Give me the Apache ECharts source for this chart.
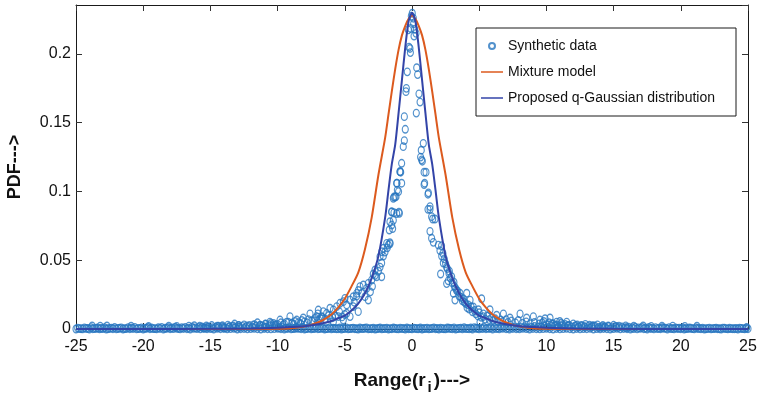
<!DOCTYPE html>
<html>
<head>
<meta charset="utf-8">
<script src="https://cdn.jsdelivr.net/npm/echarts@6/dist/echarts.min.js"></script>
<style>
html,body{margin:0;padding:0;background:#fff;}
#chart{width:761px;height:396px;}
</style>
</head>
<body>
<div id="chart"></div>
<script>
// ---- tick settings ----
const xMin = -25, xMax = 25, xStep = 5;
const yMin = 0, yMax = 0.2356, yStep = 0.05;

// ---- fitted curves ----
const curveX = [-25,-20,-15,-12,-10,-9,-8,-7.5,-7,-6.5,-6,-5.5,-5,-4.5,-4,-3.5,-3,-2.5,-2,-1.75,-1.5,-1.25,-1,-0.75,-0.5,-0.25,0,
                0.25,0.5,0.75,1,1.25,1.5,1.75,2,2.5,3,3.5,4,4.5,5,5.5,6,6.5,7,7.5,8,9,10,12,15,20,25];
const mixtureY = [0,0,0,0.00002,0.0002,0.0006,0.0018,0.003,0.0047,0.0072,0.0105,0.0155,0.022,0.031,0.041,0.058,0.081,0.112,0.139,0.156,0.173,0.189,0.203,0.2135,0.2205,0.2255,0.228,
                  0.2255,0.2205,0.2135,0.203,0.189,0.173,0.156,0.139,0.112,0.081,0.058,0.041,0.031,0.022,0.0155,0.0105,0.0072,0.0047,0.003,0.0018,0.0006,0.0002,0.00002,0,0,0];
const qGaussY = [0.00002,0.00005,0.00015,0.0004,0.0009,0.0014,0.002,0.0027,0.0034,0.0045,0.0058,0.0078,0.0098,0.0135,0.0185,0.026,0.037,0.053,0.081,0.101,0.120,0.134,0.157,0.181,0.205,0.224,0.230,
                 0.224,0.205,0.181,0.157,0.134,0.120,0.101,0.081,0.053,0.037,0.026,0.0185,0.0135,0.0098,0.0078,0.0058,0.0045,0.0034,0.0027,0.002,0.0014,0.0009,0.0004,0.00015,0.00005,0.00002];

// ---- synthetic data points: [range, pdf] ----
const synthBase = [
[-25,0],[-24.75,.0003],[-24.5,.0001],[-24.25,.0004],[-24,0],[-23.75,.0002],[-23.5,.0005],[-23.25,.0001],[-23,.0003],[-22.75,0],
[-22.5,.0004],[-22.25,.0002],[-22,.0001],[-21.75,.0005],[-21.5,0],[-21.25,.0003],[-21,.0002],[-20.75,.0004],[-20.5,.0001],[-20.25,.0003],
[-20,0],[-19.75,.0005],[-19.5,.0002],[-19.25,.0003],[-19,.0001],[-18.75,.0004],[-18.5,0],[-18.25,.0005],[-18,.0002],[-17.75,.0003],
[-17.5,.0005],[-17.25,.0001],[-17,.0004],[-16.75,.0002],[-16.5,0],[-16.25,.0005],[-16,.0003],[-15.75,.0001],[-15.5,.0004],[-15.25,.0002],
[-15,.0003],[-14.75,0],[-14.5,.0005],[-14.25,.0002],[-14,.0004],[-13.75,.0001],[-13.5,.0003],[-13.25,.0005],[-13,0],[-12.75,.0002],
[-12.5,.0004],[-12.25,.0001],[-12,.0003],[-11.75,.0005],[-11.5,.0002],[-11.25,0],[-11,.0004],[-10.75,.0002],[-10.5,.0001],[-10.25,.0003],
[-10,.0005],[-9.75,.0002],[-9.5,0],[-9.25,.0004],[-9,.0001],[-8.75,.0003],[-8.5,.0005],[-8.25,.0002],[-8,0],[-7.75,.0004],
[-7.5,.0001],[-7.25,.0003],[-7,.0002],[-6.75,.0005],[-6.5,0],[-6.25,.0003],[-6,.0001],[-5.75,.0004],[-5.5,.0002],[-5.25,0],
[-5,.0003],[-4.75,.0001],[-4.5,.0004],[-4.25,.0002],[-4,0],[-3.75,.0003],[-3.5,.0005],[-3.25,.0001],[-3,.0002],[-2.75,0],
[-2.5,.0004],[-2.25,.0001],[-2,.0003],[-1.75,0],[-1.5,.0002],[-1.25,.0004],[-1,.0001],[-0.75,.0003],[-0.5,0],[-0.25,.0002],
[0,.0001],[0.25,.0004],[0.5,.0002],[0.75,0],[1,.0003],[1.25,.0001],[1.5,.0004],[1.75,.0002],[2,0],[2.25,.0003],
[2.5,.0001],[2.75,.0005],[3,.0002],[3.25,0],[3.5,.0004],[3.75,.0001],[4,.0003],[4.25,.0002],[4.5,0],[4.75,.0005],
[5,.0001],[5.25,.0003],[5.5,.0002],[5.75,.0004],[6,0],[6.25,.0003],[6.5,.0001],[6.75,.0005],[7,.0002],[7.25,0],
[7.5,.0004],[7.75,.0002],[8,.0001],[8.25,.0005],[8.5,.0003],[8.75,0],[9,.0004],[9.25,.0002],[9.5,.0001],[9.75,.0003],
[10,.0005],[10.25,.0002],[10.5,0],[10.75,.0004],[11,.0001],[11.25,.0003],[11.5,.0005],[11.75,.0002],[12,0],[12.25,.0004],
[12.5,.0001],[12.75,.0003],[13,.0002],[13.25,.0005],[13.5,0],[13.75,.0003],[14,.0001],[14.25,.0004],[14.5,.0002],[14.75,0],
[15,.0003],[15.25,.0005],[15.5,.0001],[15.75,.0004],[16,.0002],[16.25,0],[16.5,.0003],[16.75,.0001],[17,.0005],[17.25,.0002],
[17.5,0],[17.75,.0004],[18,.0001],[18.25,.0003],[18.5,.0002],[18.75,.0005],[19,0],[19.25,.0003],[19.5,.0001],[19.75,.0004],
[20,.0002],[20.25,0],[20.5,.0003],[20.75,.0005],[21,.0001],[21.25,.0004],[21.5,.0002],[21.75,0],[22,.0003],[22.25,.0001],
[22.5,.0004],[22.75,.0002],[23,0],[23.25,.0005],[23.5,.0001],[23.75,.0003],[24,.0002],[24.25,0],[24.5,.0004],[24.75,.0001],[25,.0002]
];
const synthBase2 = [
[-24.875,.0006],[-24.625,.0002],[-24.375,.0008],[-24.125,.0004],[-23.875,.0010],[-23.625,.0003],[-23.375,.0007],[-23.125,.0005],[-22.875,.0009],[-22.625,.0002],
[-22.375,.0006],[-22.125,.0011],[-21.875,.0004],[-21.625,.0008],[-21.375,.0003],[-21.125,.0010],[-20.875,.0006],[-20.625,.0012],[-20.375,.0004],[-20.125,.0008],
[-19.875,.0005],[-19.625,.0011],[-19.375,.0007],[-19.125,.0003],[-18.875,.0009],[-18.625,.0012],[-18.375,.0005],[-18.125,.0010],[-17.875,.0007],[-17.625,.0013],
[-17.375,.0004],[-17.125,.0009],[-16.875,.0012],[-16.625,.0006],[-16.375,.0014],[-16.125,.0008],[-15.875,.0011],[-15.625,.0015],[-15.375,.0007],[-15.125,.0012],
[-14.875,.0009],[-14.625,.0014],[-14.375,.0010],[-14.125,.0016],[-13.875,.0008],[-13.625,.0013],[-13.375,.0017],[-13.125,.0011],[-12.875,.0015],[-12.625,.0019],
[-12.375,.0012],[-12.125,.0017],[-11.875,.0014],[-11.625,.0020],[-11.375,.0016],[-11.125,.0022],[-10.875,.0013],[-10.625,.0019],[-10.375,.0024],[-10.125,.0017],
[-9.875,.0008],[-9.625,.0012],[-9.375,.0006],[-9.125,.0010],[-8.875,.0004],[-8.625,.0009],[-8.375,.0006],[-8.125,.0011],[-7.875,.0003],[-7.625,.0008],
[-7.375,.0005],[-7.125,.0010],[-6.875,.0004],[-6.625,.0007],[-6.375,.0003],[-6.125,.0009],[-5.875,.0005],[-5.625,.0002],[-5.375,.0007],[-5.125,.0004],
[-4.875,.0008],[-4.625,.0003],[-4.375,.0006],[-4.125,.0002],[-3.875,.0007],[-3.625,.0004],[-3.375,.0008],[-3.125,.0003],[-2.875,.0006],[-2.625,.0002],
[-2.375,.0007],[-2.125,.0004],[-1.875,.0006],[-1.625,.0003],[-1.375,.0007],[-1.125,.0002],[-0.875,.0006],[-0.625,.0004],[-0.375,.0007],[-0.125,.0003],
[0.125,.0006],[0.375,.0002],[0.625,.0007],[0.875,.0004],[1.125,.0006],[1.375,.0003],[1.625,.0008],[1.875,.0004],[2.125,.0006],[2.375,.0002],
[2.625,.0007],[2.875,.0004],[3.125,.0008],[3.375,.0003],[3.625,.0006],[3.875,.0009],[4.125,.0004],[4.375,.0007],[4.625,.0010],[4.875,.0005],
[5.125,.0008],[5.375,.0011],[5.625,.0006],[5.875,.0009],[6.125,.0012],[6.375,.0007],[6.625,.0010],[6.875,.0013],[7.125,.0008],[7.375,.0011],
[7.625,.0014],[7.875,.0009],[8.125,.0012],[8.375,.0016],[8.625,.0010],[8.875,.0014],[9.125,.0018],[9.375,.0012],[9.625,.0016],[9.875,.0021],
[10.125,.0014],[10.375,.0019],[10.625,.0024],[10.875,.0016],[11.125,.0021],[11.375,.0017],[11.625,.0023],[11.875,.0015],[12.125,.0020],[12.375,.0016],
[12.625,.0022],[12.875,.0014],[13.125,.0019],[13.375,.0015],[13.625,.0020],[13.875,.0012],[14.125,.0017],[14.375,.0013],[14.625,.0018],[14.875,.0011],
[15.125,.0016],[15.375,.0012],[15.625,.0015],[15.875,.0010],[16.125,.0014],[16.375,.0009],[16.625,.0013],[16.875,.0008],[17.125,.0012],[17.375,.0007],
[17.625,.0011],[17.875,.0006],[18.125,.0010],[18.375,.0005],[18.625,.0009],[18.875,.0006],[19.125,.0010],[19.375,.0004],[19.625,.0008],[19.875,.0005],
[20.125,.0009],[20.375,.0004],[20.625,.0007],[20.875,.0003],[21.125,.0008],[21.375,.0004],[21.625,.0006],[21.875,.0002],[22.125,.0006],[22.375,.0003],
[22.625,.0005],[22.875,.0002],[23.125,.0006],[23.375,.0003],[23.625,.0005],[23.875,.0002],[24.125,.0004],[24.375,.0006],[24.625,.0003],[24.875,.0005]
];
const synthTails = [
[-23.8,.0022],[-23.2,.0021],[-22.7,.0022],[-20.9,.002],[-19.6,.0019],[-18.1,.002],[-17.5,.0019],[-16.6,.0021],[-16.2,.0024],[-15.8,.002],
[-15.3,.0022],[-14.9,.0025],[-14.5,.002],[-14.1,.0024],[-13.7,.0028],[-13.3,.0022],[-12.9,.0026],[-12.5,.003],[-12.1,.0025],[-11.7,.0032],
[-11.3,.0028],[-10.9,.0035],[-10.5,.0041],[-10.1,.003],[-11.0,.0015],[-12.8,.0012],[-14.0,.0011],[-15.5,.001],[-13.2,.0036],[-11.5,.0045],
[10.2,.0045],[10.5,.0038],[10.8,.003],[11.1,.0042],[11.4,.0033],[11.7,.0028],[12.0,.0037],[12.3,.003],[12.6,.0026],[12.9,.0034],
[13.2,.0028],[13.5,.0024],[13.8,.003],[14.2,.0025],[14.6,.0022],[15.0,.0027],[15.4,.0021],[15.9,.0023],[16.5,.002],[17.2,.0022],
[17.8,.0019],[18.6,.002],[19.4,.0021],[20.3,.0019],[21.2,.002],[24.9,.0012],[11.0,.0055],[10.9,.0015],[12.4,.0014],[14.0,.0012],
[16.0,.001],[9.8,.0055],[9.9,.0075]
];
const synthMid = [
[-5.0,.0105],[-5.2,.0088],[-5.4,.0125],[-5.7,.0095],[-5.9,.0082],[-6.2,.0098],[-6.45,.0072],[-6.7,.0085],[-6.95,.0065],[-7.2,.0078],
[-7.45,.0058],[-7.7,.0068],[-8.0,.0052],[-8.2,.0062],[-8.45,.0046],[-8.7,.0055],[-8.95,.0042],[-9.2,.005],[-9.5,.0038],[-9.75,.0045],
[-10.0,.0034],[-10.3,.004],[-10.6,.003],[-10.9,.0036],[-11.3,.0026],[-11.8,.003],[-12.3,.0022],[-12.9,.0025],[-13.6,.0018],[-14.4,.002],[-15.2,.0015],
[-6.97,.0138],[-7.09,.009],[-7.59,.011],[-8.09,.008],[-8.58,.0065],[-9.08,.009],[-9.33,.005],[-9.82,.0065],[-10.57,.005],[-7.3,.006],
[-7.8,.0045],[-8.3,.004],[-8.8,.0035],[-9.6,.003],[-10.2,.0028],[-6.8,.0075],[-7.0,.011],
[-2.75,.0429],[-2.88,.040],[-2.63,.038],[-3.0,.0356],[-3.25,.0332],[-3.62,.032],[-3.37,.0296],[-3.87,.0308],[-4.11,.0259],[-3.75,.0259],
[-3.5,.0235],[-3.25,.0211],[-4.37,.0235],[-4.61,.0211],[-4.99,.0223],[-5.11,.0199],[-5.36,.0187],[-4.86,.0175],[-4.37,.0163],[-4.0,.0126],
[-5.6,.0163],[-5.85,.0139],[-6.1,.0151],[-6.35,.0114],[-6.6,.0126],[-6.72,.009],[-5.48,.009],[-4.86,.0114],[-4.61,.009],[-5.11,.0065],
[-5.85,.0053],[-6.1,.0078],[-3.99,.028],[-4.12,.024],[-4.3,.0195],[-3.1,.027],[-2.95,.031],
[3.32,.028],[3.57,.026],[3.08,.026],[3.2,.021],[3.82,.022],[4.07,.026],[4.32,.021],[4.19,.0175],[4.56,.016],[5.18,.022],
[4.94,.014],[5.31,.011],[5.06,.005],[5.8,.014],[6.3,.01],[6.8,.011],[7.29,.008],[8.04,.011],[8.53,.008],[9.03,.009],
[9.52,.0065],[10.27,.008],[10.76,.005],[11.51,.005],
[2.2,.0605],[2.3,.055],[2.4,.051],[2.5,.0475],[2.62,.044],[2.75,.0405],[2.85,.037],[2.7,.035],[3.0,.0335],[3.15,.031],
[3.25,.0295],[3.4,.0275],[3.5,.024],[3.65,.023],[3.75,.0205],[3.9,.0195],[4.0,.0185],[4.1,.0155],[4.25,.0145],[4.4,.016],
[4.5,.0125],[4.65,.0135],[4.75,.011],[4.9,.0095],[5.0,.0118],[5.15,.0085],[5.3,.009],[5.45,.0072],[5.6,.0095],[5.75,.0068],
[5.9,.0078],[6.05,.0062],[6.2,.0074],[6.4,.0055],[6.6,.0065],[6.75,.0052],[7.0,.0068],[7.15,.0048],[7.4,.0058],[7.7,.0045],
[7.9,.0062],[8.2,.0042],[8.5,.0052],[8.8,.0038],[9.1,.0048],[9.45,.0036],[9.7,.0044],[10.0,.0032],[10.4,.0038],[10.7,.0027],
[11.2,.0031],[11.6,.0024],[12.2,.0026],[12.8,.0019],[13.4,.0022],[14.3,.0016],[15.2,.0018]
];
const synthCore = [
[0.02,.2296],[0.1,.226],[-0.05,.2275],[0.12,.222],[-0.27,.2175],[0.2,.218],[0.3,.215],[-0.15,.204],[-0.22,.205],[-0.12,.201],
[-0.35,.187],[0.35,.19],[0.42,.185],[-0.45,.1726],[-0.42,.175],[0.52,.171],[0.6,.165],[0.32,.157],[-0.57,.1544],[-0.5,.1452],
[-0.57,.137],[-0.65,.1326],[0.84,.135],[0.69,.13],[0.64,.125],[0.77,.122],[-0.77,.1205],[-0.89,.1144],[-0.84,.114],[1.04,.114],
[-1.12,.106],[-0.77,.106],[0.94,.106],[1.22,.099],[-1.34,.096],[1.34,.089],[1.19,.087],[-1.51,.085],[-0.97,.085],[-1.39,.079],
[-1.44,.073],[1.71,.08],[1.54,.08],[1.34,.071],[1.46,.066],[1.59,.063],[-1.64,.062],[-1.84,.059],[-2.01,.056],[-2.13,.053],
[1.96,.061],[2.08,.057],[2.21,.053],[2.33,.048],[-2.26,.048],[-2.38,.045],[-2.5,.042],[-2.75,.039],[-2.26,.038],[2.58,.045],
[2.78,.042],[2.13,.04],[2.95,.038],[2.58,.033],[3.12,.034],
[-0.89,.1144],[-1.14,.106],[-1.09,.101],[-1.19,.0962],[-1.39,.095],[-1.51,.0853],[-1.34,.0846],[-0.94,.0841],[-1.64,.078],[-1.51,.0756],
[-1.69,.072],[-1.88,.0623],[-1.64,.0628],[-1.76,.0611],[-2.13,.0587],[-2.25,.0562],[-2.38,.0526],[-1.0,.0999],[-1.26,.096],[-1.14,.084],
[0.72,.123],[0.9,.114],[0.9,.105],[1.19,.098],[1.34,.087],[1.46,.0817],[0.15,.213],[-0.1,.2185]
];

const FONT = "'Liberation Sans', Arial, Helvetica, sans-serif";
const DATA_COLOR = '#2776bf';
const MIX_COLOR = '#dc5a1e';
const QG_COLOR = '#3344a8';

const chart = echarts.init(document.getElementById('chart'), null, {renderer: 'canvas'});

const axisCommon = {
  type: 'value',
  axisLine: {show: true, onZero: false, lineStyle: {color: '#1a1a1a', width: 1}},
  axisTick: {show: true, inside: true, length: 6, lineStyle: {color: '#333', width: 1}},
  splitLine: {show: false}
};

const option = {
  backgroundColor: '#fff',
  animation: false,
  grid: {left: 76, right: 13, top: 5, bottom: 67, containLabel: false, outerBoundsMode: 'none'},
  legend: {
    left: 476, top: 28, orient: 'vertical',
    backgroundColor: '#fff', borderColor: '#1a1a1a', borderWidth: 1,
    padding: [11, 21, 11, 5], itemGap: 12, itemWidth: 22, itemHeight: 6,
    textStyle: {fontFamily: FONT, fontSize: 14, color: '#111'},
    data: [
      {name: 'Synthetic data', icon: 'circle'},
      {name: 'Mixture model', icon: 'path://M0,0h44v3h-44z'},
      {name: 'Proposed q-Gaussian distribution', icon: 'path://M0,0h44v3h-44z'}
    ]
  },
  xAxis: [
    Object.assign({}, axisCommon, {
      min: xMin, max: xMax, interval: xStep, position: 'bottom',
      axisLabel: {fontFamily: FONT, fontSize: 16, color: '#111', margin: 10},
      name: '{m|Range(r}{sub|i}{m|)--->}', nameLocation: 'middle', nameGap: 42,
      nameTextStyle: {fontFamily: FONT, fontSize: 19, fontWeight: 'bold', color: '#111',
        rich: {
          m: {fontFamily: FONT, fontSize: 19, fontWeight: 'bold', color: '#111', lineHeight: 24, verticalAlign: 'top'},
          sub: {fontFamily: FONT, fontSize: 15, fontWeight: 'bold', color: '#111', lineHeight: 12, verticalAlign: 'bottom', padding: [0, 2, 0, 2]}
        }}
    }),
    Object.assign({}, axisCommon, {
      min: xMin, max: xMax, interval: xStep, position: 'top',
      axisLabel: {show: false}
    })
  ],
  yAxis: [
    Object.assign({}, axisCommon, {
      min: yMin, max: yMax, interval: yStep, position: 'left',
      axisLabel: {fontFamily: FONT, fontSize: 16, color: '#111', margin: 5, showMaxLabel: false},
      name: 'PDF--->', nameLocation: 'middle', nameGap: 52, nameRotate: 90,
      nameTextStyle: {fontFamily: FONT, fontSize: 18, fontWeight: 'bold', color: '#111'}
    }),
    Object.assign({}, axisCommon, {
      min: yMin, max: yMax, interval: yStep, position: 'right',
      axisLabel: {show: false}
    })
  ],
  series: [
    {
      name: 'Synthetic data', type: 'scatter',
      xAxisIndex: 0, yAxisIndex: 0,
      symbol: 'circle', symbolSize: [6, 7.5],
      itemStyle: {color: 'rgba(255,255,255,0)', borderColor: DATA_COLOR, borderWidth: 1.25},
      data: synthBase.concat(synthBase2, synthTails, synthMid, synthCore),
      z: 2
    },
    {
      name: 'Mixture model', type: 'line',
      xAxisIndex: 0, yAxisIndex: 0,
      showSymbol: false, smooth: 0.25,
      color: MIX_COLOR,
      lineStyle: {color: MIX_COLOR, width: 2},
      itemStyle: {color: MIX_COLOR},
      data: curveX.map((x, i) => [x, mixtureY[i]]),
      z: 3
    },
    {
      name: 'Proposed q-Gaussian distribution', type: 'line',
      xAxisIndex: 0, yAxisIndex: 0,
      showSymbol: false, smooth: 0.25,
      color: QG_COLOR,
      lineStyle: {color: QG_COLOR, width: 2},
      itemStyle: {color: QG_COLOR},
      data: curveX.map((x, i) => [x, qGaussY[i]]),
      z: 4
    }
  ]
};
chart.setOption(option);
</script>
</body>
</html>
